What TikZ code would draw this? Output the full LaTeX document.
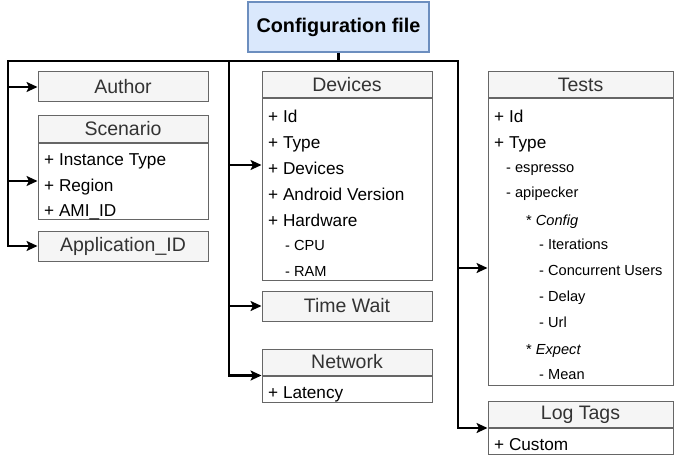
\documentclass[tikz,border=0pt]{standalone}
\usepackage{fontspec}
\setmainfont{Liberation Sans}
\usetikzlibrary{arrows.meta}

\definecolor{hdrfill}{HTML}{F5F5F5}
\definecolor{boxline}{HTML}{666666}
\definecolor{hdrtext}{HTML}{333333}
\definecolor{cfgfill}{HTML}{DAE8FC}
\definecolor{cfgline}{HTML}{6C8EBF}

\newcommand\cfgfont{\fontsize{19.8}{22}\selectfont\bfseries}
\newcommand\hdrfont{\fontsize{19.5}{22}\selectfont}
\newcommand\itemfont{\fontsize{17.2}{20}\selectfont}
\newcommand\subfont{\fontsize{14.6}{17}\selectfont}

\tikzset{
    hdr/.style={draw=boxline, line width=1pt, fill=hdrfill, text=hdrtext, minimum width=170pt, minimum height=26pt, inner sep=0pt, font=\hdrfont},
    solo/.style={hdr, minimum height=30pt},
    bodybox/.style={draw=boxline, line width=1pt, fill=white, minimum width=170pt, inner sep=0pt, anchor=north},
    item/.style={anchor=base west, inner sep=0pt, font=\itemfont},
    sub/.style={anchor=base west, inner sep=0pt, font=\subfont},
    trunk/.style={line width=2.2pt, black},
    feed/.style={trunk, -{Stealth[length=11pt,width=10pt,inset=2.5pt]}},
}

\begin{document}
\begin{tikzpicture}[x=1pt, y=-1pt]
        \useasboundingbox (0,0) rectangle (674,476);

        % Root
        \node[draw=cfgline, line width=1.5pt, fill=cfgfill, minimum width=181pt, minimum height=50pt, inner sep=0pt, font=\cfgfont] (cfg) at (338.5,27) {Configuration file};

        % Left column
        \node[solo] (author) at (123,87) {Author};
        \node[hdr] (scenhead) at (123,129) {Scenario};
        \node[bodybox, minimum height=76pt] (scenbody) at (scenhead.south) {};
        \node[item] (scen1) at (44,165) {+ Instance Type};
        \node[item] (scen2) at (44,191) {+ Region};
        \node[item] (scen3) at (44,216) {+ AMI\_ID};
        \node[solo] (appid) at (123,246) {Application\_ID};

        % Middle column
        \node[hdr] (devhead) at (347,85) {Devices};
        \node[bodybox, minimum height=181pt] (devbody) at (devhead.south) {};
        \node[item] (dev1) at (268,122) {+ Id};
        \node[item] (dev2) at (268,148) {+ Type};
        \node[item] (dev3) at (268,174) {+ Devices};
        \node[item] (dev4) at (268,200) {+ Android Version};
        \node[item] (dev5) at (268,226) {+ Hardware};
        \node[sub] (dev6) at (285,250) {- CPU};
        \node[sub] (dev7) at (285,276) {- RAM};
        \node[solo] (timewait) at (347,306) {Time Wait};
        \node[hdr] (nethead) at (347,362) {Network};
        \node[bodybox, minimum height=26pt] (netbody) at (nethead.south) {};
        \node[item] (net1) at (268,398) {+ Latency};

        % Right column
        \node[hdr, minimum width=185pt] (testhead) at (580.5,85) {Tests};
        \node[bodybox, minimum width=185pt, minimum height=286pt] (testbody) at (testhead.south) {};
        \node[item] (test1) at (494,122) {+ Id};
        \node[item] (test2) at (494,148) {+ Type};
        \node[sub] (test3) at (506,172) {- espresso};
        \node[sub] (test4) at (506,197) {- apipecker};
        \node[sub] (test5) at (526,225) {* \textit{Config}};
        \node[sub] (test6) at (539,249) {- Iterations};
        \node[sub] (test7) at (539,275) {- Concurrent Users};
        \node[sub] (test8) at (539,301) {- Delay};
        \node[sub] (test9) at (539,327) {- Url};
        \node[sub] (test10) at (526,354) {* \textit{Expect}};
        \node[sub] (test11) at (539,379) {- Mean};
        \node[hdr, minimum width=185pt] (loghead) at (580.5,414.5) {Log Tags};
        \node[bodybox, minimum width=185pt, minimum height=26pt] (logbody) at (loghead.south) {};
        \node[item] (log1) at (494,450) {+ Custom};

        % Connectors
        \coordinate (jl) at (8,61);
        \coordinate (jm) at (229,61);
        \coordinate (jr) at (458,61);
        \draw[trunk] (cfg.south) -- (cfg.south |- jl);
        \draw[trunk, line cap=rect] (jl) -- (jr);
        \draw[feed] (jl) |- (author.west);
        \draw[feed] (jl) |- (scenbody.west);
        \draw[feed] (jl) |- (appid.west);
        \draw[feed] (jm) |- ([yshift=24.5pt]devbody.west);
        \draw[feed] (jm) |- (timewait.west);
        \draw[feed] (jm) |- (nethead.south west);
        \draw[feed] (jr) |- ([yshift=-26pt]testbody.west);
        \draw[feed] (jr) |- (loghead.south west);
    \end{tikzpicture}
\end{document}
